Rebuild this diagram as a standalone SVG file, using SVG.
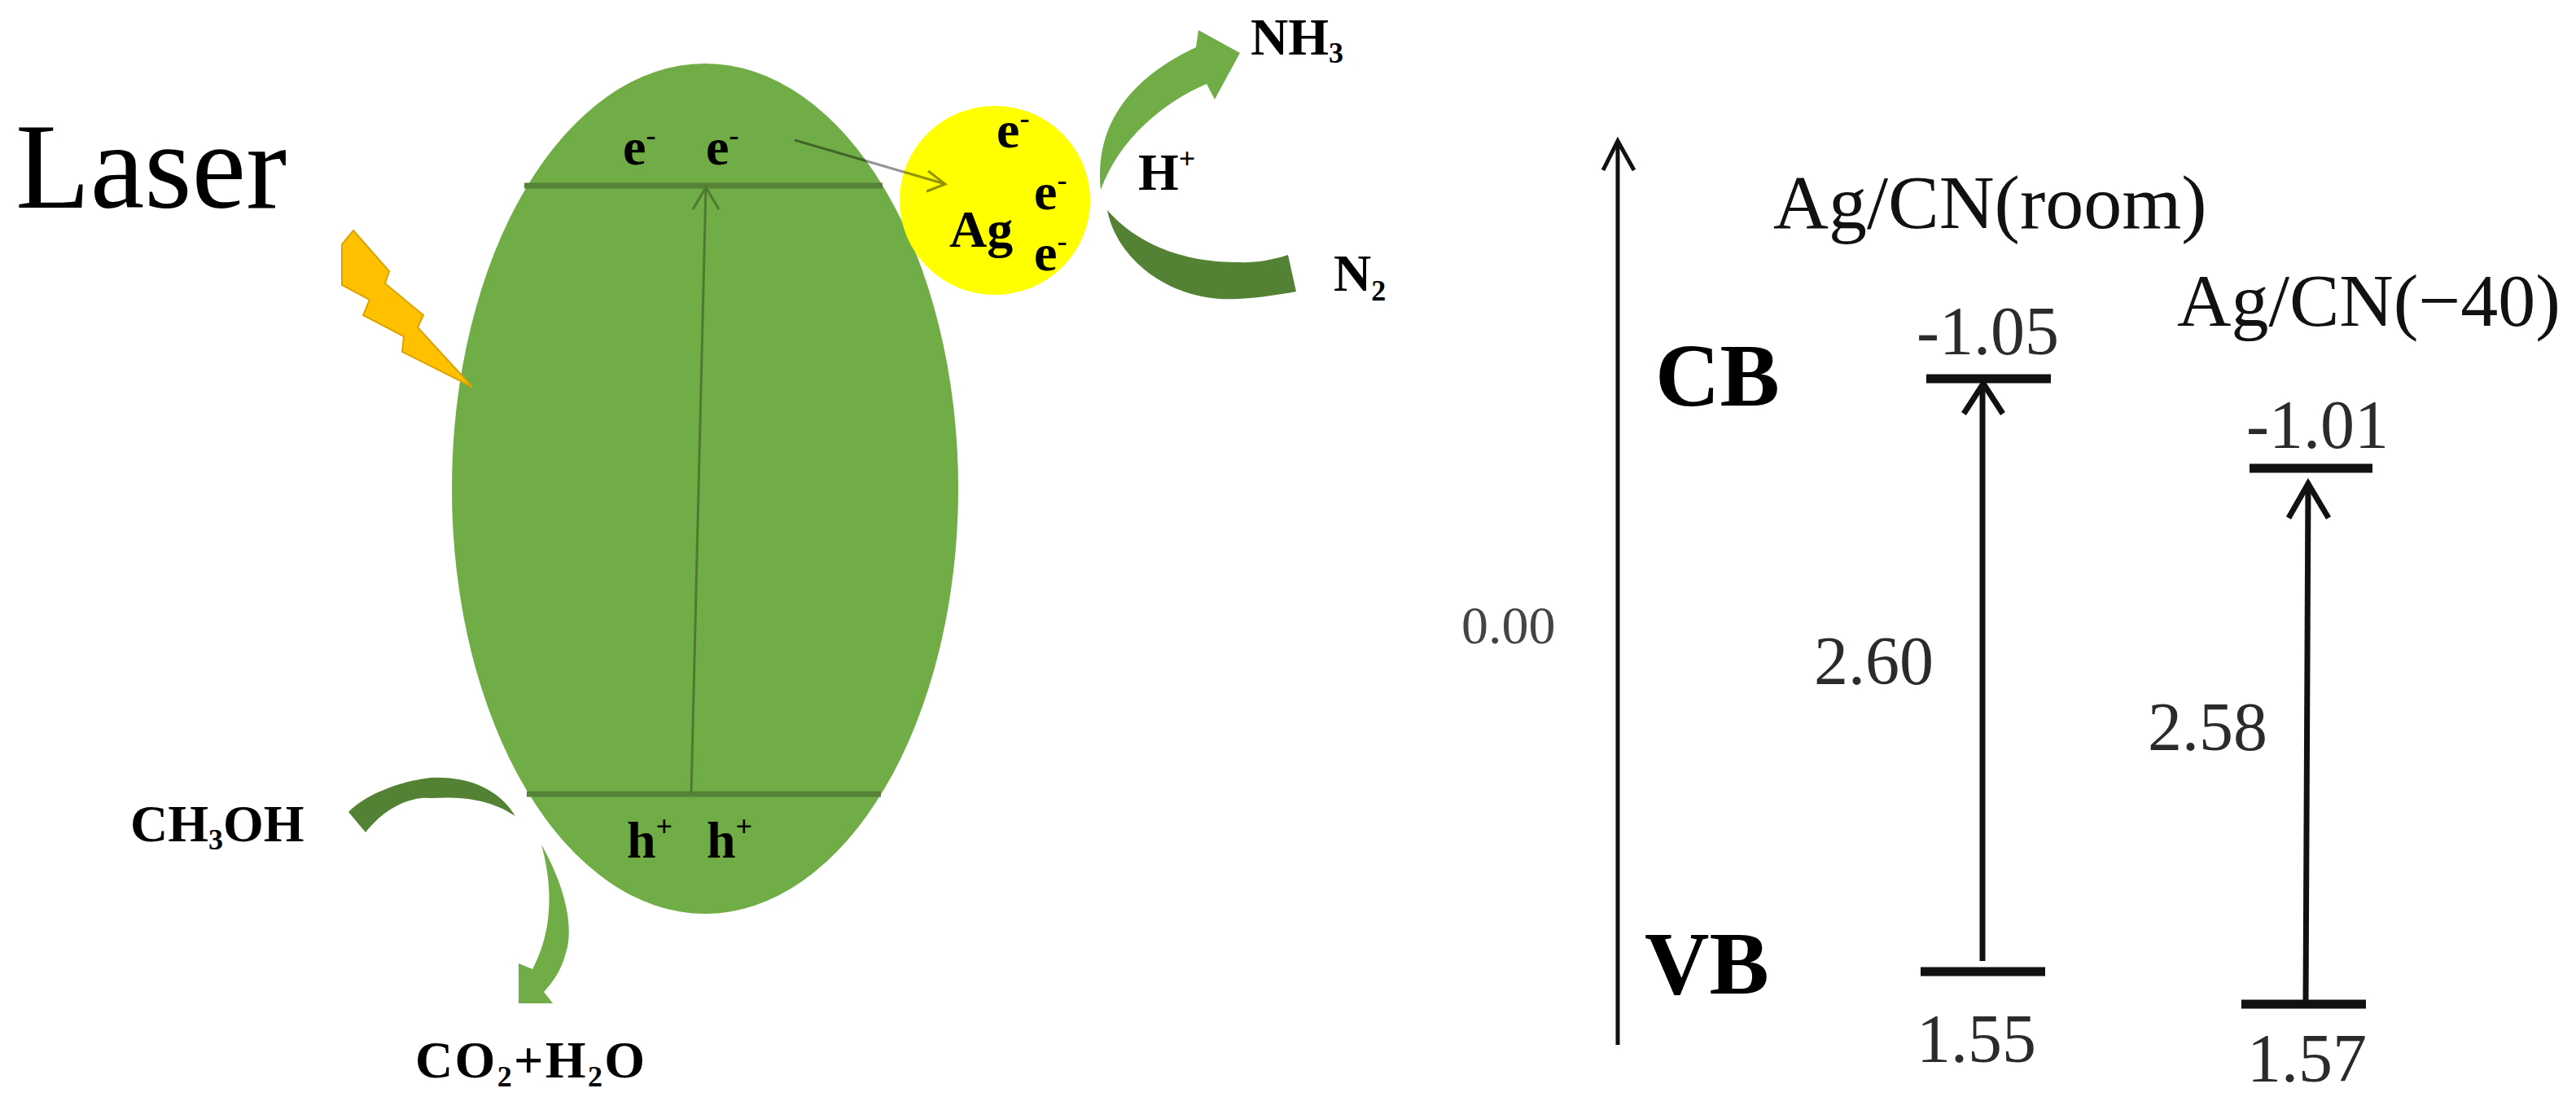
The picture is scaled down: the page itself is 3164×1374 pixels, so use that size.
<svg xmlns="http://www.w3.org/2000/svg" width="3164" height="1374" viewBox="0 0 3164 1374">
<style>
text{font-family:"Liberation Serif","Times New Roman",serif;fill:#000}
.chem{font-weight:700;font-size:64px}
.s{font-size:36px}
.band{font-size:84px;fill:#2b2b2b}
.title{fill:#111}
.cb{font-weight:700;font-size:110px}
.lv{stroke:#111;stroke-width:11;fill:none}
.ar{stroke:#111;stroke-width:7;fill:none}
.ax{stroke:#111;stroke-width:5;fill:none}
.thin{stroke:#4d7a30;stroke-width:3;fill:none}
.band-line{stroke:#558236;stroke-width:7;fill:none}
.lg{fill:#70AD47}
.dg{fill:#548235}
</style>
<g id="particle"><ellipse cx="866" cy="600" rx="311" ry="522" fill="#70AD47"/></g>
<g id="ag-particle"><ellipse cx="1222" cy="246" rx="117" ry="116" fill="#FFFF00"/></g>
<g id="lightning"><path d="M434 283L478 333L473 348L520 387L513 402L580 475L494 432L496 413L446 387L454 368L420 350L420 300Z" fill="#FFC000" stroke="#D9A400" stroke-width="2"/></g>
<g id="connectors">
<path class="band-line" d="M644 228H1084"/>
<path class="band-line" d="M647 975H1082"/>
<path class="thin" d="M849 975L867 228"/>
<path class="thin" d="M851 257L867 230L883 257"/>
<path d="M976 172L1161 226M1140 210L1161 226L1138 235" fill="none" stroke="#000" stroke-opacity=".42" stroke-width="3"/>
<path id="arrow-nh3" class="lg" d="M1352 233C1345 160 1380 100 1469 58L1472 37L1523 65L1492 122L1482 103C1430 125 1375 170 1352 233Z"/>
<path id="arrow-n2" class="dg" d="M1360 258C1372 320 1440 372 1520 367C1545 366 1570 362 1592 358L1582 313C1560 320 1540 323 1520 322C1450 322 1395 298 1360 258Z"/>
<path id="arrow-ch3oh" class="dg" d="M633 1002C610 965 570 953 528 955C490 960 450 975 428 997L449 1022C470 995 500 978 528 980C565 978 600 980 633 1002Z"/>
<path id="arrow-co2" class="lg" d="M665 1037C695 1090 705 1140 695 1170C690 1190 680 1205 668 1218L679 1232H637V1183L654 1190C670 1160 685 1110 665 1037Z"/>
<path class="ax" d="M1987 1283V173"/>
<path class="ax" d="M1969 209L1987 173L2007 209"/>
<path class="lv" d="M2366 465H2519"/>
<path class="lv" d="M2359 1193H2512"/>
<path class="ar" d="M2435 1180V472"/>
<path class="ar" d="M2412 508L2436 471L2460 508"/>
<path class="lv" d="M2763 575H2914"/>
<path class="lv" d="M2753 1233H2906"/>
<path class="ar" d="M2832 1233L2835 594"/>
<path class="ar" d="M2811 636L2835 594L2860 636"/>
</g>
<g id="laser-label"><text x="19" y="255" font-size="150">Laser</text></g>
<g id="band-electrons">
<text class="chem" x="765" y="202">e<tspan class="s" dy="-24">-</tspan></text>
<text class="chem" x="867" y="202">e<tspan class="s" dy="-24">-</tspan></text>
<text class="chem" x="1224" y="181">e<tspan class="s" dy="-24">-</tspan></text>
<text class="chem" x="1270" y="257">e<tspan class="s" dy="-24">-</tspan></text>
<text class="chem" x="1270" y="332">e<tspan class="s" dy="-24">-</tspan></text>
<text class="chem" x="1166" y="303">Ag</text>
</g>
<g id="band-holes">
<text class="chem" x="770" y="1053">h<tspan class="s" dy="-26">+</tspan></text>
<text class="chem" x="868" y="1053">h<tspan class="s" dy="-26">+</tspan></text>
</g>
<g id="nh3"><text class="chem" x="1536" y="67">NH<tspan class="s" dy="10">3</tspan></text></g>
<g id="h-plus"><text class="chem" x="1398" y="233">H<tspan class="s" dy="-26">+</tspan></text></g>
<g id="n2"><text class="chem" x="1638" y="357">N<tspan class="s" dy="12">2</tspan></text></g>
<g id="ch3oh"><text class="chem" x="160" y="1033">CH<tspan class="s" dy="10">3</tspan><tspan dy="-10">OH</tspan></text></g>
<g id="co2-h2o"><text class="chem" x="510" y="1323" textLength="282">CO<tspan class="s" dy="11">2</tspan><tspan dy="-11">+H</tspan><tspan class="s" dy="11">2</tspan><tspan dy="-11">O</tspan></text></g>
<g id="axis-labels">
<text x="1795" y="790" font-size="66" style="fill:#444">0.00</text>
<text class="cb" x="2033" y="498">CB</text>
<text class="cb" x="2020" y="1220">VB</text>
</g>
<g id="ag-cn-room">
<text class="title" x="2178" y="280" font-size="94">Ag/CN(room)</text>
<text class="band" x="2354" y="435">-1.05</text>
<text class="band" x="2228" y="840">2.60</text>
<text class="band" x="2354" y="1304">1.55</text>
</g>
<g id="ag-cn-40">
<text class="title" x="2674" y="400" font-size="92">Ag/CN(−40)</text>
<text class="band" x="2759" y="550">-1.01</text>
<text class="band" x="2638" y="921">2.58</text>
<text class="band" x="2760" y="1328">1.57</text>
</g>
</svg>
